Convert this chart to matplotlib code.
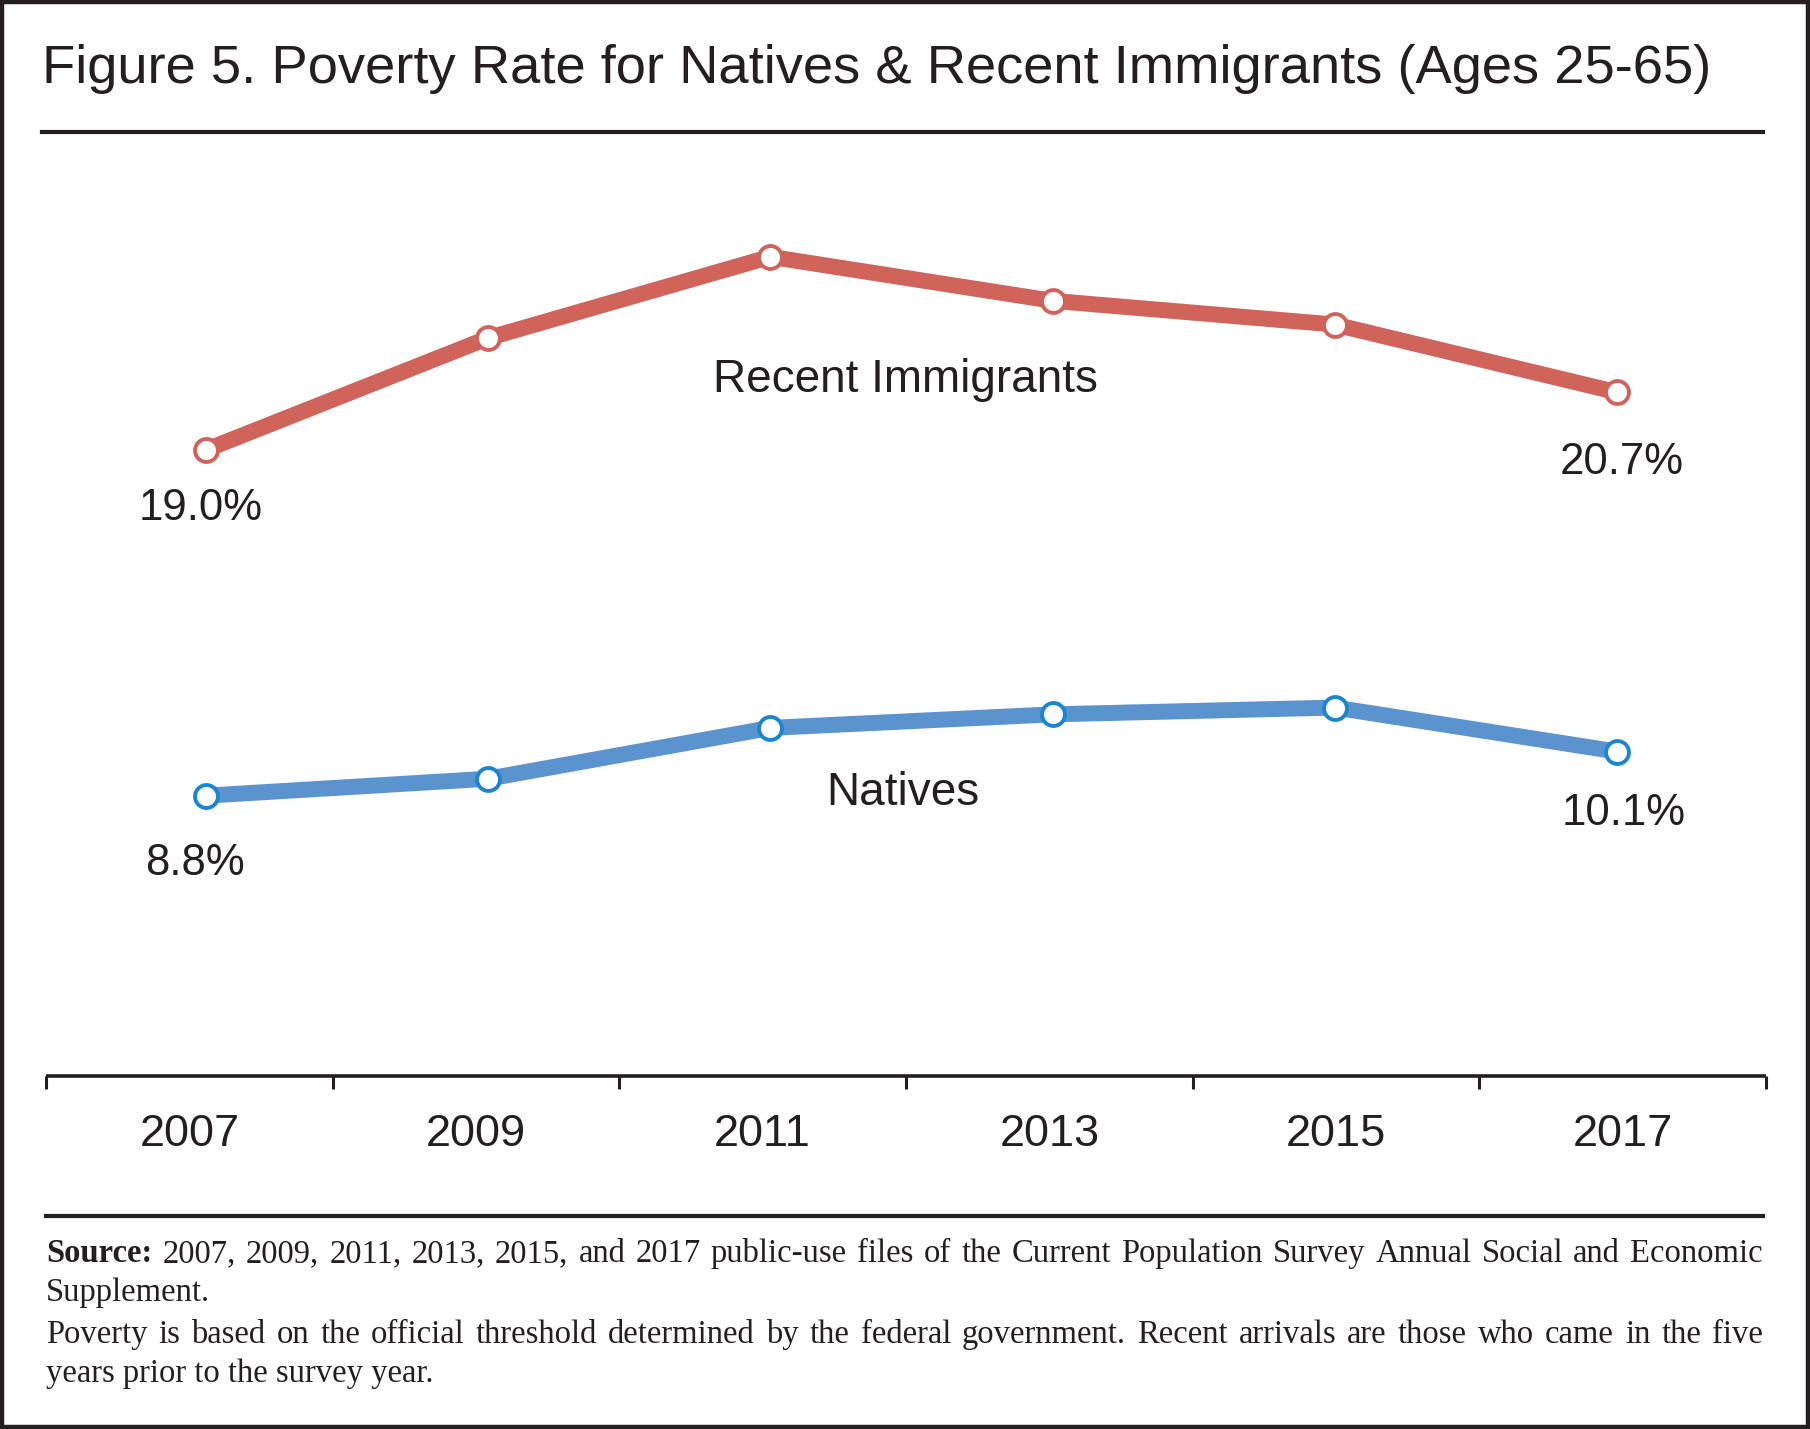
import numpy as np
import matplotlib
matplotlib.use("Agg")
import matplotlib.pyplot as plt
from matplotlib.patches import Rectangle
from matplotlib.lines import Line2D

# ---------------- data ----------------
years = ["2007", "2009", "2011", "2013", "2015", "2017"]
immigrants = [19.0, 22.3, 24.7, 23.4, 22.7, 20.7]
natives = [8.8, 9.3, 10.8, 11.2, 11.4, 10.1]
series_names = ["Recent Immigrants", "Natives"]
title_text = "Figure 5. Poverty Rate for Natives & Recent Immigrants (Ages 25-65)"
source_lines = [
    ("justify", "Source: 2007, 2009, 2011, 2013, 2015, and 2017 public-use files of the Current Population Survey Annual Social and Economic"),
    ("left", "Supplement."),
    ("justify", "Poverty is based on the official threshold determined by the federal government. Recent arrivals are those who came in the five"),
    ("left", "years prior to the survey year."),
]

# ---------------- style ----------------
W, H = 1810, 1429
DPI = 100
TXT = "#231f20"
RED = "#d0635a"
BLUE_LINE = "#5b93ce"
BLUE_EDGE = "#1a86d0"
SANS = "Liberation Sans"
SERIF = "Liberation Serif"

fig = plt.figure(figsize=(W / DPI, H / DPI), dpi=DPI)
fig.patch.set_facecolor("white")

def fx(px):
    return px / W

def fy(py):
    return 1 - py / H

# axes in pixel layout
ax_left, ax_right = 46, 1766
ax_top, ax_bottom = 150, 1076
ax = fig.add_axes([fx(ax_left), fy(ax_bottom), fx(ax_right - ax_left), (ax_bottom - ax_top) / H])
ax.set_facecolor("none")

xmin, xmax = -0.565, 5.526
ax.set_xlim(xmin, xmax)
ax.set_ylim(0.53, 27.85)

x = np.arange(len(years))
ax.plot(x, immigrants, color=RED, lw=11.5, solid_capstyle="butt", zorder=2)
ax.plot(x, immigrants, ls="none", marker="o", ms=16.5, mfc="white", mec=RED, mew=2.8, zorder=3)
ax.plot(x, natives, color=BLUE_LINE, lw=11.5, solid_capstyle="butt", zorder=2)
ax.plot(x, natives, ls="none", marker="o", ms=16.5, mfc="white", mec=BLUE_EDGE, mew=2.8, zorder=3)

for s in ["top", "left", "right"]:
    ax.spines[s].set_visible(False)
ax.spines["bottom"].set_linewidth(2.6)
ax.spines["bottom"].set_color(TXT)
ax.spines["bottom"].set_capstyle("butt")
ax.set_yticks([])

edges = np.linspace(xmin, xmax, 7)
centers = (edges[:-1] + edges[1:]) / 2
ax.set_xticks(edges, minor=True)
ax.set_xticks(centers)
ax.set_xticklabels(years, fontsize=32.5, family=SANS, color=TXT)
ax.tick_params(axis="x", which="major", length=0, pad=27)
ax.tick_params(axis="x", which="minor", length=9, width=2.2, color=TXT, direction="out")

# end-point value labels
def endlabel(i, vals, dx, dy):
    ax.annotate(f"{vals[i]:.1f}%", (x[i], vals[i]), xytext=(dx, -dy), textcoords="offset pixels",
                ha="center", va="center", fontsize=31.5, family=SANS, color=TXT)

endlabel(0, immigrants, -5, 59)
endlabel(5, immigrants, 4, 70)
endlabel(0, natives, -11, 68)
endlabel(5, natives, 6, 62)

# series labels
ax.text(2.477, 21.06, series_names[0], ha="center", va="center", fontsize=33, family=SANS, color=TXT)
ax.text(2.47, 8.88, series_names[1], ha="center", va="center", fontsize=33, family=SANS, color=TXT)

# title and rules
fig.text(fx(42), fy(83), title_text, ha="left", va="baseline", fontsize=39.2, family=SANS, color=TXT)
fig.add_artist(Line2D([fx(42), fx(1763)], [fy(132), fy(132)], lw=3, color=TXT))
fig.add_artist(Line2D([fx(46), fx(1763)], [fy(1216), fy(1216)], lw=3, color=TXT))

# source notes with justification
renderer = fig.canvas.get_renderer()
fs_src = 23.5
baselines = [1262, 1301, 1343, 1382]
x0, x1 = 46, 1763
for (mode, line), base in zip(source_lines, baselines):
    if mode == "left":
        fig.text(fx(x0), fy(base), line, ha="left", va="baseline", fontsize=fs_src, family=SERIF, color=TXT)
        continue
    words = line.split(" ")
    arts = []
    for k, wd in enumerate(words):
        weight = "bold" if (k == 0 and wd == "Source:") else "normal"
        t = fig.text(0, fy(base), wd, ha="left", va="baseline", fontsize=fs_src, family=SERIF,
                     weight=weight, color=TXT)
        arts.append(t)
    widths = [a.get_window_extent(renderer).width for a in arts]
    gap = (x1 - x0 - sum(widths)) / (len(words) - 1)
    pos = x0
    for a, wdt in zip(arts, widths):
        a.set_x(fx(pos))
        pos += wdt + gap

# outer frame
fig.add_artist(Rectangle((0.001, 0.0015), 0.998, 0.997, transform=fig.transFigure, fill=False,
                         lw=3.2, edgecolor=TXT))

fig.savefig("out.png", dpi=DPI, facecolor="white")
